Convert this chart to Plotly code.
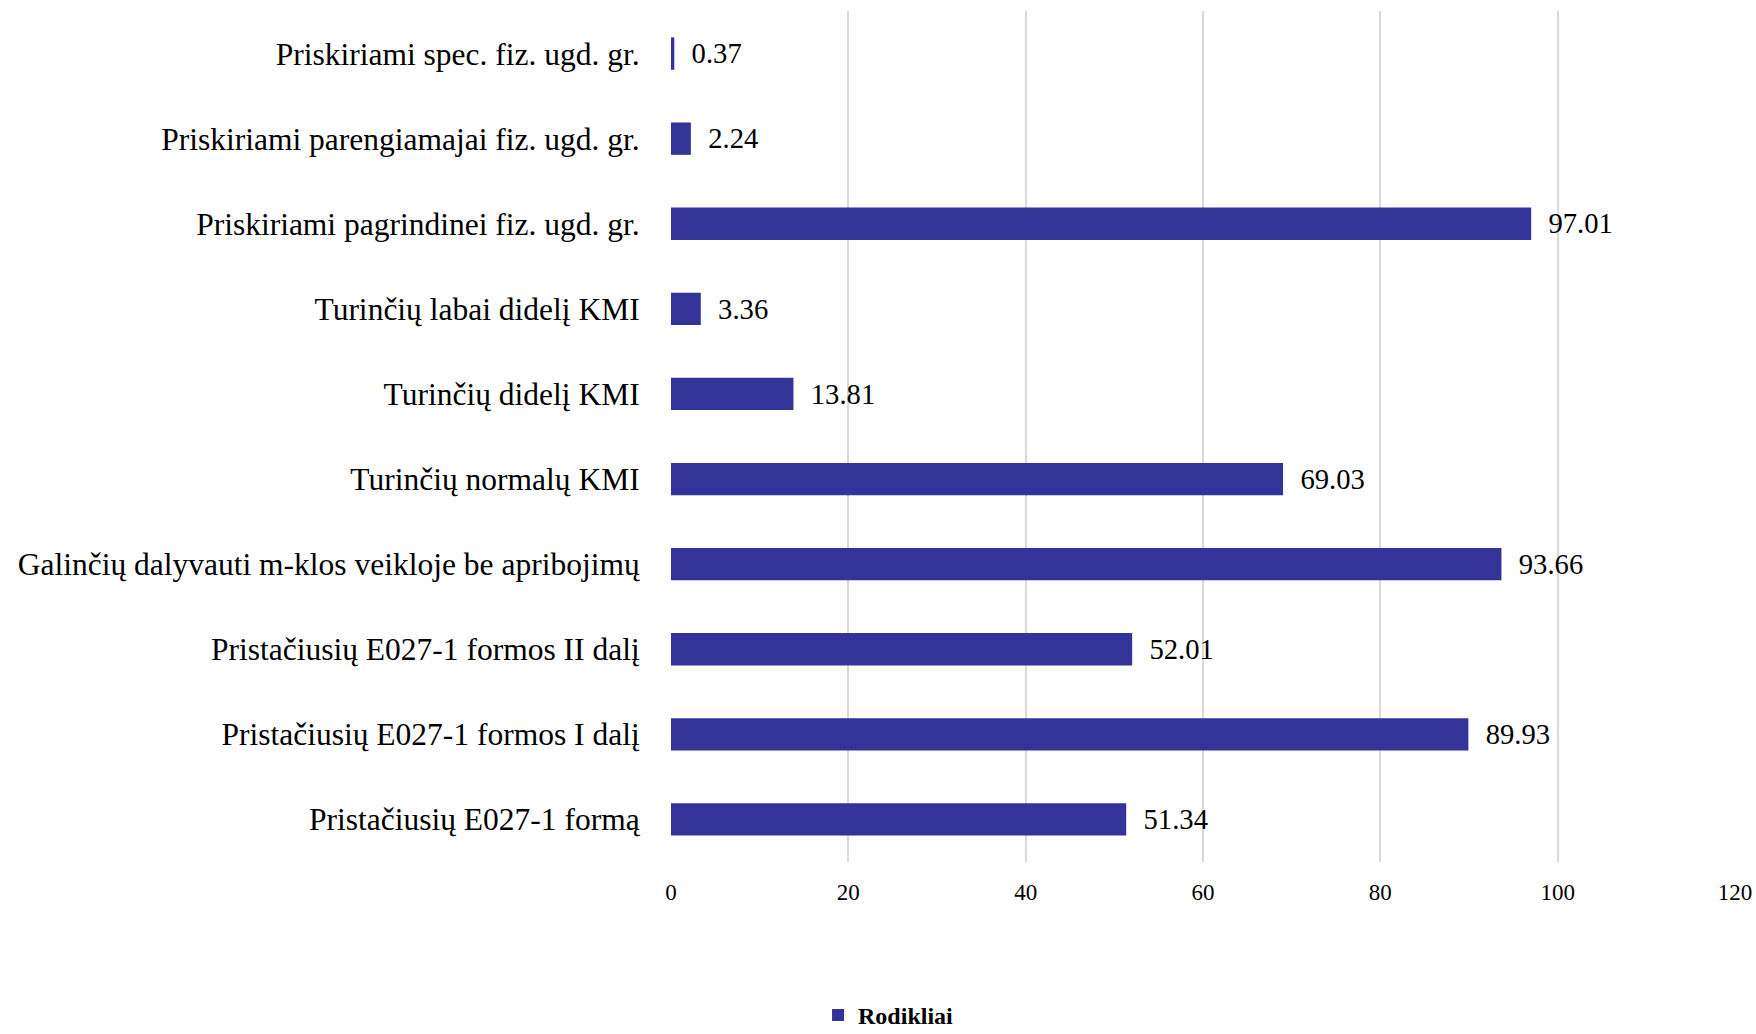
import plotly.graph_objects as go

categories = [
    "Pristačiusių E027-1 formą",
    "Pristačiusių E027-1 formos I dalį",
    "Pristačiusių E027-1 formos II dalį",
    "Galinčių dalyvauti m-klos veikloje be apribojimų",
    "Turinčių normalų KMI",
    "Turinčių didelį KMI",
    "Turinčių labai didelį KMI",
    "Priskiriami pagrindinei fiz. ugd. gr.",
    "Priskiriami parengiamajai fiz. ugd. gr.",
    "Priskiriami spec. fiz. ugd. gr.",
]
values = [51.34, 89.93, 52.01, 93.66, 69.03, 13.81, 3.36, 97.01, 2.24, 0.37]
labels = ["\u00a0\u00a0" + f"{v:.2f}" for v in values]
tick_vals = [0, 20, 40, 60, 80, 100, 120]

FONT = "Liberation Serif"

fig = go.Figure(go.Bar(
    y=categories, x=values, orientation="h", name="Rodikliai",
    marker=dict(color="#333399", line=dict(width=0)),
    text=labels, textposition="outside", cliponaxis=False,
    textfont=dict(family=FONT, size=31, color="#000000"),
))

fig.update_layout(
    width=1756, height=1034,
    margin=dict(l=671, r=21, t=11, b=172, autoexpand=False),
    paper_bgcolor="white", plot_bgcolor="white",
    bargap=0.62,
    font=dict(family=FONT, color="#000000"),
    showlegend=True,
    legend=dict(orientation="h", xref="container", yref="container",
                x=0.506, xanchor="center", y=0.018, yanchor="middle",
                font=dict(family=FONT, size=24, color="#000000", weight="bold")),
    xaxis=dict(range=[0, 120], tickvals=tick_vals, showgrid=True, gridcolor="#d9d9d9",
               gridwidth=1.5, zeroline=False, showline=False,
               ticks="outside", ticklen=9, tickcolor="white",
               tickfont=dict(family=FONT, size=23, color="#000000")),
    yaxis=dict(categoryorder="array", categoryarray=categories, showgrid=False,
               zeroline=False, showline=False, ticks="outside", ticklen=24, tickcolor="white",
               tickfont=dict(family=FONT, size=31.5, color="#000000")),
)

fig.write_html("out.html")
